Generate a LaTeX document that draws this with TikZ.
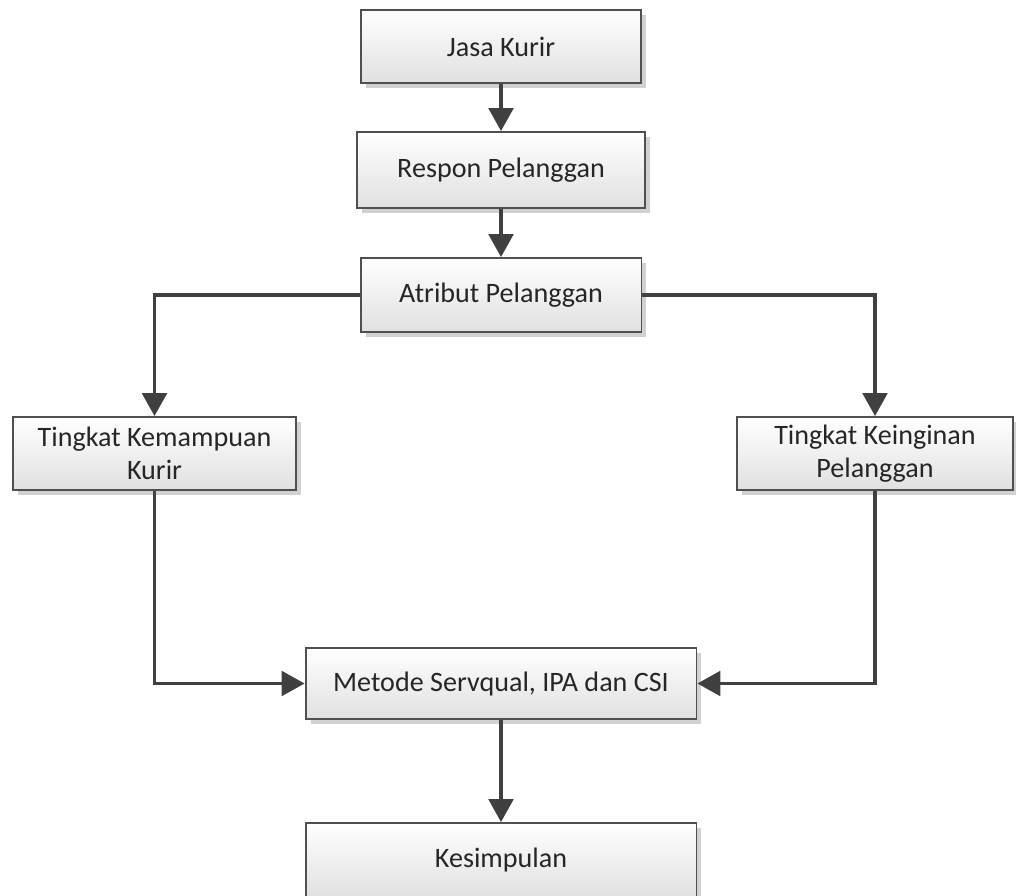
\documentclass[tikz,border=0pt]{standalone}
\usepackage{fontspec}
\setmainfont{Carlito}
\usetikzlibrary{positioning,arrows.meta,shadows}

\definecolor{linegray}{HTML}{404040}
\definecolor{boxline}{HTML}{505050}

\begin{document}
\begin{tikzpicture}[
  x=0.02cm, y=-0.02cm,
  font=\fontsize{16}{19}\selectfont, >={Triangle[length=13pt,width=14pt]},
  box/.style={draw=boxline, line width=1.1pt, top color=white, bottom color=black!12,
              text=black!85, align=center, inner sep=2pt,
              drop shadow={shadow xshift=0.1cm, shadow yshift=-0.1cm, fill=black!18, opacity=1}},
  arr/.style={->, draw=linegray, line width=1.8pt},
]
  \useasboundingbox (0,0) rectangle (1016,895);

  \node[box, minimum width=5.6cm,  minimum height=1.46cm] (jasa)    at (501,46.5) {Jasa Kurir};
  \node[box, minimum width=5.76cm, minimum height=1.52cm] (respon)  at (501,170)  {Respon Pelanggan};
  \node[box, minimum width=5.62cm, minimum height=1.48cm] (atribut) at (501,295)  {Atribut Pelanggan};

  \node[box, minimum width=5.66cm, minimum height=1.46cm] (mampu)   at (154.5,453.5) {Tingkat Kemampuan\\Kurir};
  \node[box, minimum width=5.52cm, minimum height=1.46cm] (ingin)   at (875,453.5)   {Tingkat Keinginan\\Pelanggan};

  \node[box, minimum width=7.82cm, minimum height=1.42cm] (metode)  at (501,683.5) {Metode Servqual, IPA dan CSI};
  \node[box, minimum width=7.82cm, minimum height=1.48cm] (simpul)  at (501,860)   {Kesimpulan};

  % main line
  \draw[arr] (jasa) -- (respon);
  \draw[arr] (respon) -- (atribut);
  \draw[arr] (metode) -- (simpul);

  % branches
  \draw[arr] (atribut.west) -| (mampu.north);
  \draw[arr] (atribut.east) -| (ingin.north);
  \draw[arr] (mampu.south) |- (metode.west);
  \draw[arr] (ingin.south) |- (metode.east);
\end{tikzpicture}
\end{document}
